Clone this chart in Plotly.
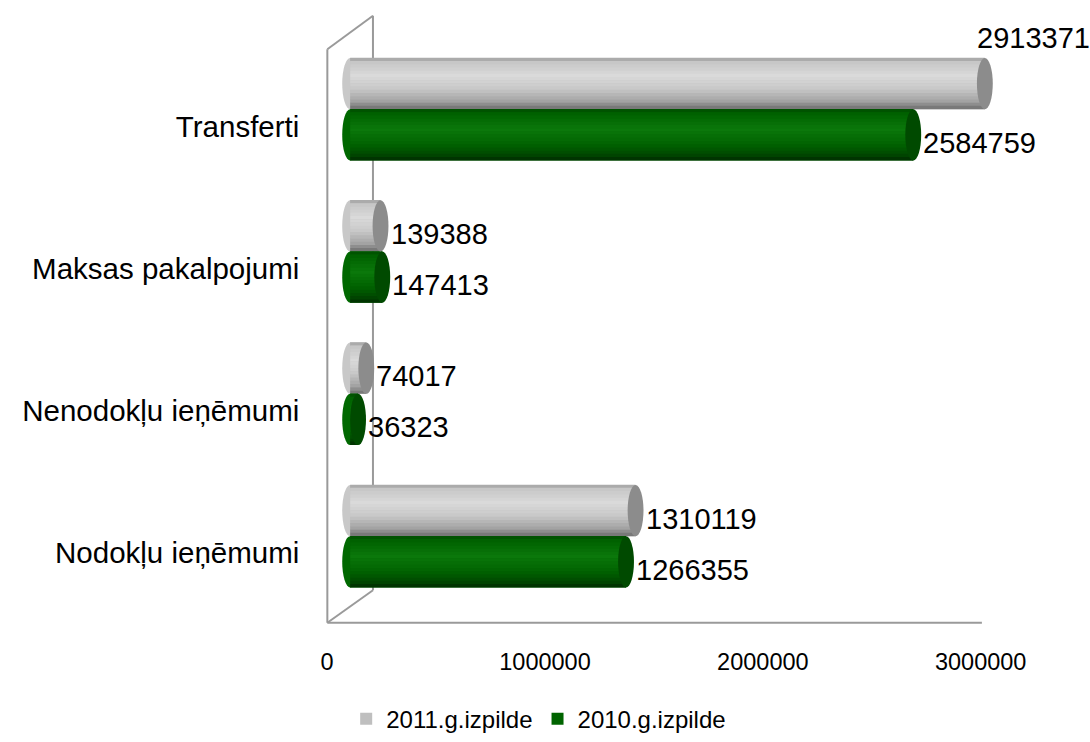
import plotly.graph_objects as go

# ---- data ----
categories = ["Nodokļu ieņēmumi", "Nenodokļu ieņēmumi", "Maksas pakalpojumi", "Transferti"]
series_names = ["2011.g.izpilde", "2010.g.izpilde"]
values_2011 = [1310119, 74017, 139388, 2913371]
values_2010 = [1266355, 36323, 147413, 2584759]
tick_values = [0, 1000000, 2000000, 3000000]
tick_labels = ["0", "1000000", "2000000", "3000000"]

# ---- geometry / style ----
W, H = 1090, 742
FONT = "Liberation Sans, Arial, sans-serif"
PX_PER_UNIT = 659 / 3_000_000
CAP_PX = 8
CAP = CAP_PX / PX_PER_UNIT
BAR_H = 0.36
N_SLICES = 16

def px(x):      # screen x -> paper
    return x / W

def py(y):      # screen y -> paper
    return 1 - y / H

def hex2rgb(h):
    h = h.lstrip("#")
    return tuple(int(h[i:i + 2], 16) for i in (0, 2, 4))

def grad(stops, t):
    for (t0, c0), (t1, c1) in zip(stops, stops[1:]):
        if t0 <= t <= t1:
            f = (t - t0) / (t1 - t0) if t1 > t0 else 0
            a, b = hex2rgb(c0), hex2rgb(c1)
            r = [round(a[i] + (b[i] - a[i]) * f) for i in range(3)]
            return "rgb(%d,%d,%d)" % tuple(r)
    return stops[-1][1]

gray_stops = [(0.0, "#9a9a9a"), (0.08, "#c6c6c6"), (0.35, "#dadada"),
              (0.6, "#c9c9c9"), (0.85, "#a2a2a2"), (1.0, "#6e6e6e")]
green_stops = [(0.0, "#004c00"), (0.1, "#006200"), (0.4, "#0b780b"),
               (0.7, "#006200"), (0.9, "#004600"), (1.0, "#002c00")]

series = [
    dict(name=series_names[0], values=values_2011, top=BAR_H, stops=gray_stops,
         legend="#bfbfbf", body="#c8c8c8", cap="#8c8c8c", rank=1),
    dict(name=series_names[1], values=values_2010, top=0.0, stops=green_stops,
         legend="#006400", body="#006800", cap="#004a00", rank=2),
]

ypos = list(range(len(categories)))

fig = go.Figure()
shapes = []
annotations = []

for s in series:
    vals = s["values"]
    top = s["top"]
    fig.add_trace(go.Bar(
        x=vals, y=ypos, orientation="h", base=0,
        offset=top - BAR_H, width=BAR_H,
        marker=dict(color=s["legend"], line=dict(width=0)),
        name=s["name"], legendrank=s["rank"], hoverinfo="x+name",
    ))
    h = BAR_H / N_SLICES
    for i in range(N_SLICES):
        t = (i + 0.5) / N_SLICES
        fig.add_trace(go.Bar(
            x=vals, y=ypos, orientation="h", base=0,
            offset=top - (i + 1) * h, width=h * 1.08,
            marker=dict(color=grad(s["stops"], t), line=dict(width=0)),
            showlegend=False, hoverinfo="skip",
        ))
    for yi, v in zip(ypos, vals):
        y0 = yi + top - BAR_H
        y1 = yi + top
        shapes.append(dict(type="circle", xref="x", yref="y",
                           x0=-CAP, x1=CAP, y0=y0, y1=y1,
                           fillcolor=s["body"], line=dict(width=0), layer="below"))
        shapes.append(dict(type="circle", xref="x", yref="y",
                           x0=v - CAP, x1=v + CAP, y0=y0, y1=y1,
                           fillcolor=s["cap"], line=dict(width=0), layer="above"))
        xs, ys = CAP_PX, -8
        if v == max(values_2011 + values_2010):
            xs, ys = -10, 46
        annotations.append(dict(
            x=v, y=(y0 + y1) / 2, xref="x", yref="y",
            text=str(v), showarrow=False, xanchor="left", yanchor="middle",
            xshift=xs, yshift=ys,
            font=dict(family=FONT, size=29, color="#000000"),
        ))

# 3-D frame lines (walls / floor)
frame_color = "#9a9a9a"
for (xa, ya, xb, yb) in [
    (322, 50, 322, 633),
    (322, 50, 368, 16),
    (368, 16, 368, 600),
    (322, 633, 368, 600),
    (322, 633, 982, 633),
]:
    shapes.append(dict(type="line", xref="paper", yref="paper",
                       x0=px(xa), y0=py(ya), x1=px(xb), y1=py(yb),
                       line=dict(color=frame_color, width=2), layer="below"))

LABEL_SHIFT = 17   # category labels sit lower than the bars (front plane)
x_left = 345 - 0.1e6 * PX_PER_UNIT
x_right = 345 + 3.1e6 * PX_PER_UNIT

fig.update_layout(
    width=W, height=H,
    margin=dict(l=0, r=0, t=0, b=0),
    paper_bgcolor="white", plot_bgcolor="rgba(0,0,0,0)",
    barmode="overlay",
    font=dict(family=FONT, color="#000000"),
    xaxis=dict(domain=[px(x_left), px(x_right)], range=[-100000, 3100000],
               tickvals=tick_values, ticktext=tick_labels,
               showgrid=False, zeroline=False, showline=False, ticks="",
               tickfont=dict(size=23.5), ticklabelstandoff=38,
               ticklabelshift=-23, fixedrange=True),
    yaxis=dict(domain=[py(634.3 - LABEL_SHIFT), py(55.7 - LABEL_SHIFT)],
               range=[-0.5, 3.5],
               tickvals=ypos, ticktext=categories,
               showgrid=False, zeroline=False, showline=False, ticks="",
               tickfont=dict(size=29.5), ticklabelstandoff=28,
               ticklabelshift=LABEL_SHIFT, fixedrange=True),
    legend=dict(orientation="h", x=px(341), xanchor="left", y=py(731),
                yanchor="middle", font=dict(size=24), itemwidth=30,
                bgcolor="rgba(0,0,0,0)"),
    shapes=shapes,
    annotations=annotations,
    showlegend=True,
)

fig.write_html("out.html",
               config={"displayModeBar": False},
               post_script="document.body.style.margin='0';"
                           "document.body.style.overflow='hidden';")
